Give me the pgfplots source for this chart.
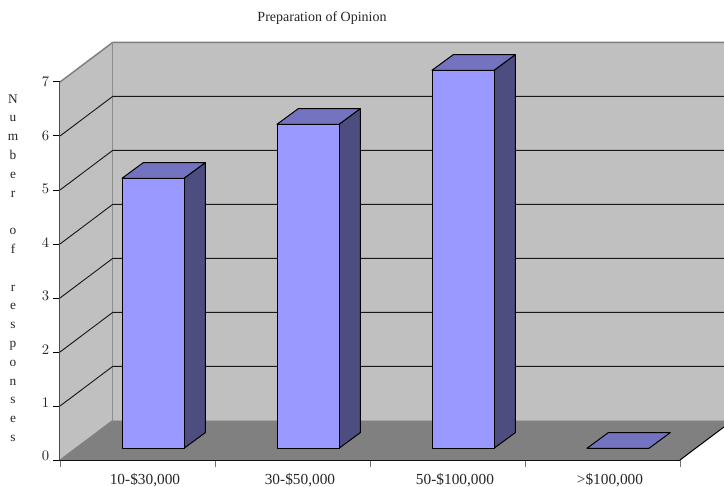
\documentclass[border=0pt]{standalone}
\usepackage{pgfplots}
\pgfplotsset{compat=1.18}
\usepackage{fontspec}
\setmainfont{Liberation Serif}
\definecolor{wall}{HTML}{C0C0C0}
\definecolor{floorgray}{HTML}{808080}
\definecolor{barfront}{HTML}{9999FF}
\definecolor{bartop}{HTML}{7373BF}
\definecolor{barside}{HTML}{4D4D80}
\pgfplotsset{
  grid seg/.style={draw=black!90,line width=0.7pt},
  face/.style={draw=black,line width=0.75pt,line join=round,shift={(axis direction cs:0,0.217)}},
}
\begin{document}
\begin{tikzpicture}[x=1pt,y=1pt]
\path[use as bounding box] (-45,-19.5) rectangle (498,345);
\begin{axis}[
  at={(0,0)},anchor=south west,
  scale only axis,width=465pt,height=283.5pt,
  xmin=0,xmax=4,ymin=0,ymax=7,
  clip=false,
  axis x line*=bottom,axis y line*=left,
  axis line style={-},
  x axis line style={draw=black,line width=1.1pt},
  y axis line style={draw=black!70,line width=1.1pt},
  tick align=outside,
  major tick length=5pt,minor tick length=5pt,
  xtick={0.5,1.5,2.5,3.5},
  xticklabels={{10-\$30,000},{30-\$50,000},{50-\$100,000},{>\$100,000}},
  minor xtick={0,1,2,3,4},
  xtick style={/pgfplots/major tick length=0pt},
  minor tick style={draw=black!55,line width=0.75pt},
  ytick={0,1,2,3,4,5,6,7},
  ytick style={draw=black,line width=0.75pt},
  yticklabel={\pgfmathparse{(7-\tick)*0.8}\raisebox{\pgfmathresult pt}{\pgfmathprintnumber{\tick}}},
  yticklabel style={font=\fontsize{10.5}{12}\selectfont,text=black!85,xshift=0.5pt},
  xticklabel style={font=\fontsize{11.5}{13}\selectfont,text=black!85,xshift=5.6pt,yshift=-1.5pt},
  title={Preparation of Opinion},
  title style={at={(axis description cs:0.4226,1.1746)},anchor=center,yshift=-7.5pt,font=\fontsize{10.5}{12}\selectfont,text=black!85},
  ylabel={N\\u\\m\\b\\e\\r\\ \\o\\f\\ \\r\\e\\s\\p\\o\\n\\s\\e\\s},
  every axis y label/.style={at={(axis description cs:-0.0758,0.508)},anchor=center,align=center,
    font=\fontsize{10}{14.1}\selectfont,text=black!85},
]
% side wall, back wall, floor (the back wall runs off the right-hand edge)
\addplot[fill=wall,draw=none] coordinates {(0,0)(0.34,0.733)(4.2839,0.733)(4.2839,7.733)(0.34,7.733)(0,7)} --cycle;
\addplot[fill=floorgray,draw=none] coordinates {(0,0)(4,0)(4.2839,0.612)(4.2839,0.733)(0.34,0.733)} --cycle;
% wall edges
\addplot[draw=floorgray,line width=1.1pt] coordinates {(0,7)(0.34,7.733)(4.2839,7.733)};
\addplot[draw=floorgray!90,line width=1pt] coordinates {(0.34,7.733)(0.34,0.733)};
\addplot[draw=floorgray,line width=0.75pt] coordinates {(0,0)(0.34,0.733)};
\addplot[draw=black,line width=0.75pt] coordinates {(4,0)(4.2839,0.612)};
% grid lines
\addplot[grid seg] coordinates {(0,1)(0.34,1.733)(4.2839,1.733)};
\addplot[grid seg] coordinates {(0,2)(0.34,2.733)(4.2839,2.733)};
\addplot[grid seg] coordinates {(0,3)(0.34,3.733)(4.2839,3.733)};
\addplot[grid seg] coordinates {(0,4)(0.34,4.733)(4.2839,4.733)};
\addplot[grid seg] coordinates {(0,5)(0.34,5.733)(4.2839,5.733)};
\addplot[grid seg] coordinates {(0,6)(0.34,6.733)(4.2839,6.733)};
% 10-$30,000: 5 responses
\addplot[face,fill=barside] coordinates {(0.8,0)(0.9375,0.29)(0.9375,5.29)(0.8,5)} --cycle;
\addplot[face,fill=bartop] coordinates {(0.4,5)(0.8,5)(0.9375,5.29)(0.5375,5.29)} --cycle;
\addplot[face,fill=barfront] coordinates {(0.4,0)(0.8,0)(0.8,5)(0.4,5)} --cycle;
% 30-$50,000: 6 responses
\addplot[face,fill=barside] coordinates {(1.8,0)(1.9375,0.29)(1.9375,6.29)(1.8,6)} --cycle;
\addplot[face,fill=bartop] coordinates {(1.4,6)(1.8,6)(1.9375,6.29)(1.5375,6.29)} --cycle;
\addplot[face,fill=barfront] coordinates {(1.4,0)(1.8,0)(1.8,6)(1.4,6)} --cycle;
% 50-$100,000: 7 responses
\addplot[face,fill=barside] coordinates {(2.8,0)(2.9375,0.29)(2.9375,7.29)(2.8,7)} --cycle;
\addplot[face,fill=bartop] coordinates {(2.4,7)(2.8,7)(2.9375,7.29)(2.5375,7.29)} --cycle;
\addplot[face,fill=barfront] coordinates {(2.4,0)(2.8,0)(2.8,7)(2.4,7)} --cycle;
% >$100,000: no responses, only the top face shows
\addplot[face,fill=bartop] coordinates {(3.4,0)(3.8,0)(3.9375,0.29)(3.5375,0.29)} --cycle;
\end{axis}
\end{tikzpicture}
\end{document}
